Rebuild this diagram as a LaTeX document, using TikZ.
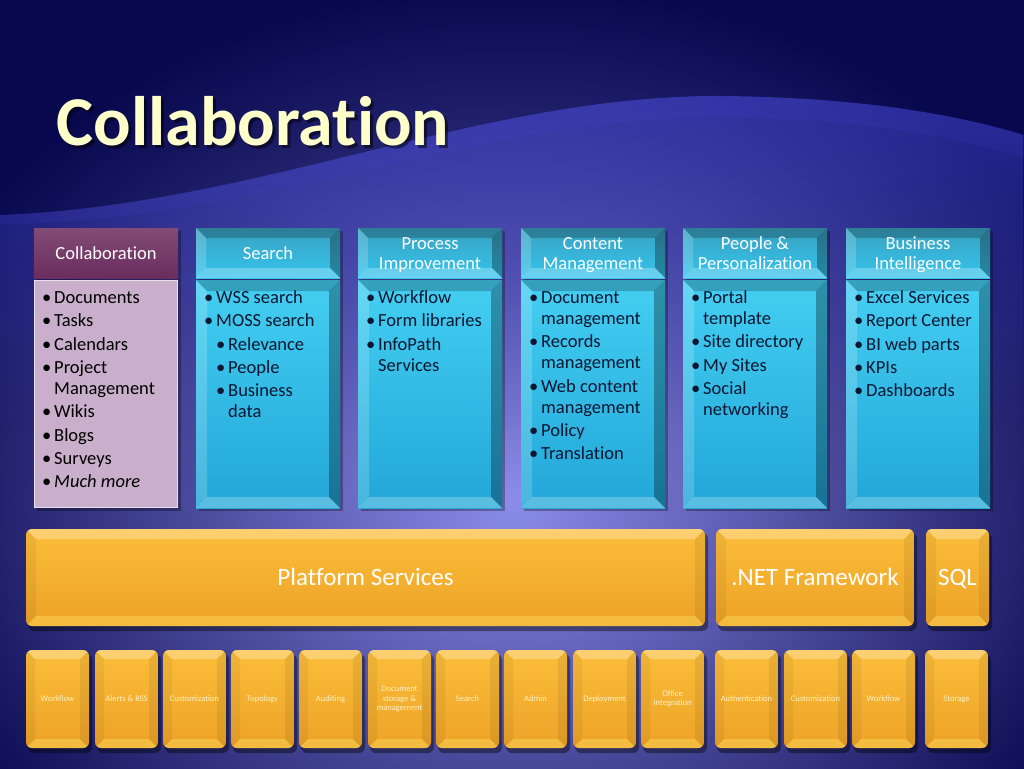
\documentclass[tikz,border=0pt]{standalone}
\usepackage{fontspec}
\setmainfont{Carlito}[Ligatures=NoCommon]
\usetikzlibrary{positioning}
\usetikzlibrary{fadings}

\definecolor{navy}{HTML}{08084E}
\definecolor{glow}{HTML}{8C8CEA}
\definecolor{waveblue}{HTML}{4848DA}
\definecolor{titlecol}{HTML}{FFFFCC}
\definecolor{plum}{HTML}{6B2C5E}
\definecolor{mauve}{HTML}{C9AFCB}
\definecolor{cyantop}{HTML}{44CFF2}
\definecolor{cyanbot}{HTML}{22A6D8}
\definecolor{headtop}{HTML}{3AA2C2}
\definecolor{headbot}{HTML}{34C4EC}
\definecolor{goldtop}{HTML}{FBBE3A}
\definecolor{goldbot}{HTML}{EDA226}
\definecolor{bodytext}{HTML}{0B1630}
\definecolor{smallcol}{HTML}{FFF2C6}

% natural word spaces inside aligned nodes
\newcommand{\nsp}{\spaceskip=0pt\xspaceskip=0pt\relax}
% bullet lines
\newcommand{\itm}[1]{\par\nsp\hangindent=12pt\hangafter=1\noindent\strut\makebox[12pt][l]{\textbullet}#1}
\newcommand{\subitm}[1]{\par\nsp\hangindent=24pt\hangafter=1\noindent\strut\hspace*{12pt}\makebox[12pt][l]{\textbullet}#1}

% bevelled panel: x1 y1 x2 y2 bevel top bottom
\newcommand{\panel}[7]{%
  \shade[top color=#6,bottom color=#7] (#1,#2) rectangle (#3,#4);
  \fill[black,opacity=.22] (#1,#2) -- (#3,#2) -- (#3-#5,#2+#5) -- (#1+#5,#2+#5) -- cycle;
  \fill[black,opacity=.3] (#3,#2) -- (#3,#4) -- (#3-#5,#4-#5) -- (#3-#5,#2+#5) -- cycle;
  \fill[white,opacity=.18] (#1,#2) -- (#1,#4) -- (#1+#5,#4-#5) -- (#1+#5,#2+#5) -- cycle;
  \fill[white,opacity=.25] (#1,#4) -- (#3,#4) -- (#3-#5,#4-#5) -- (#1+#5,#4-#5) -- cycle;
}

% gold tile: x1 y1 x2 y2 bevel
\newcommand{\goldbox}[5]{%
  \fill[black,opacity=.4,rounded corners=6pt] (#1+2,#2+4) rectangle (#3+3,#4+5);
  \begin{scope}
    \clip[rounded corners=6pt] (#1,#2) rectangle (#3,#4);
    \shade[top color=goldtop,bottom color=goldbot] (#1,#2) rectangle (#3,#4);
    \fill[white,opacity=.28] (#1,#2) -- (#3,#2) -- (#3-#5,#2+#5) -- (#1+#5,#2+#5) -- cycle;
    \fill[yellow!50!white,opacity=.3] (#1,#4) -- (#3,#4) -- (#3-#5,#4-#5) -- (#1+#5,#4-#5) -- cycle;
    \fill[black,opacity=.05] (#1,#2) -- (#1,#4) -- (#1+#5,#4-#5) -- (#1+#5,#2+#5) -- cycle;
    \fill[black,opacity=.07] (#3,#2) -- (#3,#4) -- (#3-#5,#4-#5) -- (#3-#5,#2+#5) -- cycle;
  \end{scope}}

\begin{document}
\begin{tikzpicture}[x=1pt,y=-1pt,
    head/.style={text=white,font=\fontsize{18.5}{20}\selectfont,align=center},
    items/.style={anchor=north west,inner sep=0pt,text width=140pt,align=left,text=bodytext,
      font=\fontsize{18.5}{21}\selectfont\setlength{\parskip}{2.3pt}},
    bigtext/.style={anchor=base,text=white,font=\fontsize{25}{30}\selectfont},
    smalltext/.style={text=smallcol,font=\fontsize{8.5}{9.5}\selectfont,align=center}]

  % background
  \useasboundingbox (0,0) rectangle (1024,768);
  \clip (0,0) rectangle (1024,768);
  \fill[navy] (0,0) rectangle (1024,768);
  \shade[inner color=glow,outer color=navy] (512,500) ellipse (640 and 520);
  \fill[waveblue,opacity=.5,path fading=south] (0,215) .. controls (260,205) and (480,95) .. (720,96)
    .. controls (860,97) and (960,115) .. (1024,135) -- (1024,430) -- (0,430) -- cycle;
  \fill[navy,opacity=.3] (0,0) -- (0,215) .. controls (260,205) and (480,95) .. (720,96)
    .. controls (860,97) and (960,115) .. (1024,135) -- (1024,0) -- cycle;
  \fill[waveblue,opacity=.12] (0,215) .. controls (260,205) and (480,95) .. (720,96)
    .. controls (860,97) and (960,115) .. (1024,135) -- (1024,158)
    .. controls (960,138) and (860,118) .. (720,117) .. controls (480,117) and (260,222) .. (0,224) -- cycle;

  % title
  \node[anchor=base west,text=black,opacity=.5,font=\fontsize{70}{80}\bfseries] (titleshadow) at (56,148) {Collaboration};
  \node[anchor=base west,text=titlecol,font=\fontsize{70}{80}\bfseries] (title) at (53,145) {Collaboration};

  % columns
  \foreach \x in {34,196,358,521,683,846}
    \fill[black,opacity=.3] (\x+3,231) rectangle (\x+147,511);
  \shade[top color=plum!85!white,bottom color=plum] (34,228) rectangle (178,278);
  \fill[mauve] (34,280) rectangle (178,508);
  \draw[white!60!mauve,line width=1.2pt] (34.6,280.6) rectangle (177.4,507.4);
  \foreach \x in {196,358,521,683,846} {
    \panel{\x}{280}{\x+144}{508}{11}{cyantop}{cyanbot}
    \panel{\x}{228}{\x+144}{278}{10}{headtop}{headbot}
  }

  \node[head] (hcollab) at (106,253) {Collaboration};
  \node[head] (hsearch) at (268,253) {Search};
  \node[head] (hprocess) at (430,255) {Process\\Improvement};
  \node[head] (hcontent) at (593,255) {Content\\Management};
  \node[head] (hpeople) at (755,253) {\nsp People \&\\Personalization};
  \node[head] (hbi) at (918,255) {Business\\Intelligence};

  \node[items,text=black] (lcollab) at (42,280) {\itm{Documents}\itm{Tasks}\itm{Calendars}
    \itm{Project\newline Management}\itm{Wikis}\itm{Blogs}\itm{Surveys}\itm{\textit{Much more}}\par};
  \node[items] (lsearch) at (204,280) {\itm{WSS search}\itm{MOSS search}\subitm{Relevance}
    \subitm{People}\subitm{Business\newline data}\par};
  \node[items] (lprocess) at (366,280) {\itm{Workflow}\itm{Form libraries}\itm{InfoPath\newline Services}\par};
  \node[items] (lcontent) at (529,280) {\itm{Document\newline management}\itm{Records\newline management}
    \itm{Web content\newline management}\itm{Policy}\itm{Translation}\par};
  \node[items] (lpeople) at (691,280) {\itm{Portal\newline template}\itm{Site directory}\itm{My Sites}
    \itm{Social\newline networking}\par};
  \node[items] (lbi) at (854,280) {\itm{Excel Services}\itm{Report Center}\itm{BI web parts}
    \itm{KPIs}\itm{Dashboards}\par};

  % platform row
  \goldbox{26}{529}{705}{626}{10}
  \goldbox{716}{529}{914}{626}{10}
  \goldbox{926}{529}{989}{626}{10}
  \node[bigtext] (platform) at (365.5,585) {\nsp Platform Services};
  \node[bigtext] (dotnet) at (815,585) {\nsp .NET Framework};
  \node[bigtext] (sql) at (957.5,585) {SQL};

  % services row
  \foreach \x/\lbl [count=\i] in {26/Workflow,95/Alerts \& RSS,163/Customization,231/Topology,
      299/Auditing,368/{Document\\storage \&\\management},436/Search,504/Admin,573/Deployment,
      641/{Office\\Integration},715/Authentication,784/Customization,852/Workflow,925/Storage} {
    \goldbox{\x}{650}{\x+63}{748}{9}
    \node[smalltext] (svc\i) at (\x+31.5,699) {\nsp\lbl};
  }
\end{tikzpicture}
\end{document}
